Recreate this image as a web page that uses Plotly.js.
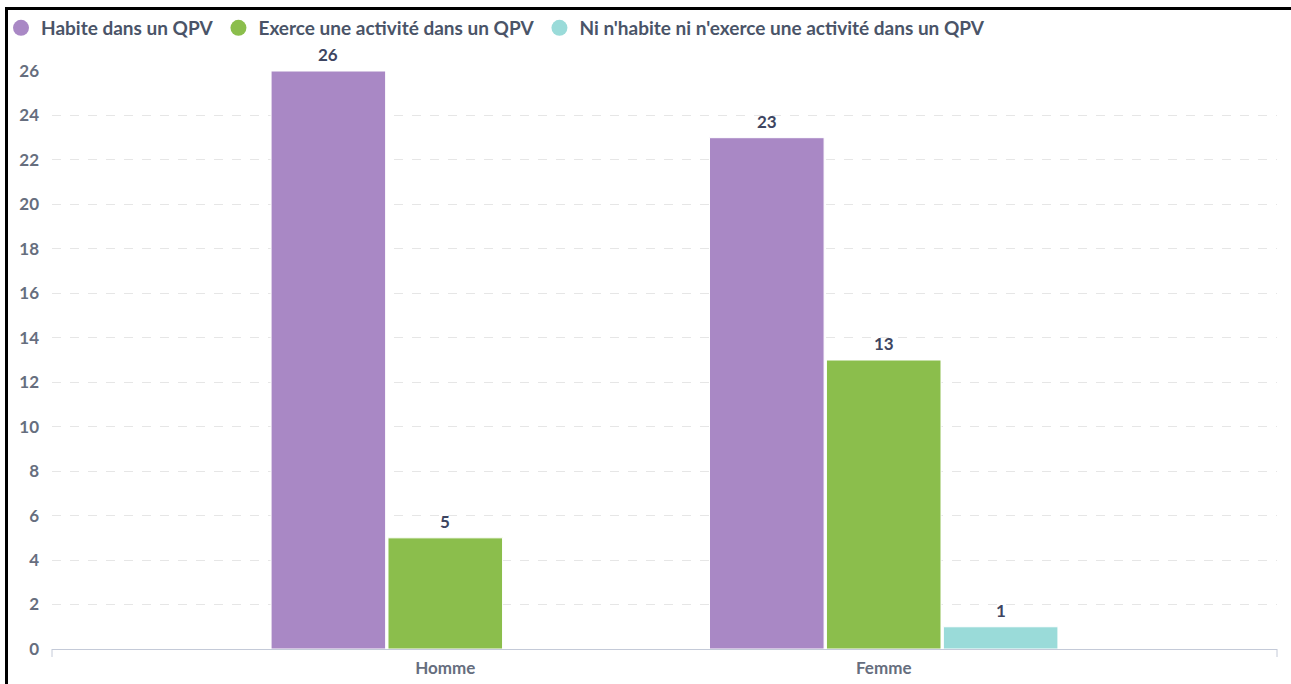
<!DOCTYPE html>
<html>
<head>
<meta charset="utf-8">
<script src="https://cdn.plot.ly/plotly-3.0.1.min.js"></script>
<style>
  html, body { margin: 0; padding: 0; background: #ffffff; }
  #chart { width: 1291px; height: 684px; position: absolute; left: 0; top: 0; }
  #frame { position: absolute; left: 5px; top: 7px; width: 1300px; height: 700px;
           border-left: 3px solid #000; border-top: 3px solid #000; pointer-events: none; }
</style>
</head>
<body>
<div id="chart"></div>
<div id="frame"></div>
<script>
const categories = ["Homme", "Femme"];
const seriesNames = [
  "Habite dans un QPV",
  "Exerce une activité dans un QPV",
  "Ni n'habite ni n'exerce une activité dans un QPV"
];
const habite = [26, 23];
const exerce = [5, 13];
const niNi = [null, 1];
const colors = ["#a988c5", "#8bbe4c", "#9adbd9"];

const values = [habite, exerce, niNi];
const traces = [];
values.forEach((vals, i) => {
  traces.push({
    type: "bar",
    name: seriesNames[i],
    x: categories,
    y: vals,
    marker: { color: colors[i], line: { color: "#ffffff", width: 1 } },
    showlegend: false,
    legendgroup: "g" + i,
    hoverinfo: "x+y+name"
  });
});
values.forEach((vals, i) => {
  traces.push({
    type: "scatter",
    mode: "markers",
    name: seriesNames[i],
    x: [null],
    y: [null],
    marker: { color: colors[i], size: 16, symbol: "circle" },
    legendgroup: "g" + i,
    showlegend: true,
    hoverinfo: "skip"
  });
});

const plotW = 1291 - 52 - 14;
const plotH = 684 - 71 - 35;

// data labels positioned from the same arrays via the category/bar scale
const bargap = 0.2, groupgap = 0.02;
const slot = (1 - bargap) / values.length;
const annotations = [];
values.forEach((vals, i) => {
  vals.forEach((v, j) => {
    if (v === null) return;
    annotations.push({
      xref: "x", yref: "y",
      x: j - (1 - bargap) / 2 + slot * (i + 0.5),
      y: v,
      text: String(v),
      showarrow: false,
      yanchor: "bottom",
      yshift: 4,
      font: { family: "Lato", size: 17, color: "#3d4561", weight: "bold" }
    });
  });
});

const layout = {
  width: 1291,
  height: 684,
  margin: { l: 52, r: 14, t: 71, b: 35, autoexpand: false },
  paper_bgcolor: "#ffffff",
  plot_bgcolor: "#ffffff",
  font: { family: "Lato", size: 17, color: "#666e7e", weight: "bold" },
  barmode: "group",
  bargap: bargap,
  bargroupgap: groupgap,
  showlegend: true,
  legend: {
    orientation: "h",
    xref: "container",
    yref: "container",
    x: 1 / 1291,
    xanchor: "left",
    y: 1 - 9 / 684,
    yanchor: "top",
    font: { family: "Lato", size: 19, color: "#4a5468", weight: "bold" },
    itemclick: false,
    bgcolor: "rgba(0,0,0,0)",
    tracegroupgap: 0
  },
  annotations: annotations,
  xaxis: {
    type: "category",
    range: [-0.897, 1.897],
    showgrid: false,
    showline: true,
    linecolor: "#c4cad8",
    linewidth: 1,
    ticks: "",
    automargin: false,
    ticklabelstandoff: 4,
    tickfont: { family: "Lato", size: 17, color: "#666e7e", weight: "bold" },
    fixedrange: true
  },
  yaxis: {
    range: [0, 26],
    dtick: 2,
    showgrid: true,
    gridcolor: "#e6e6e6",
    griddash: "dash",
    gridwidth: 1,
    zeroline: false,
    showline: false,
    ticks: "",
    automargin: false,
    ticklabelstandoff: 12,
    tickfont: { family: "Lato", size: 17, color: "#666e7e", weight: "bold" },
    fixedrange: true
  },
  shapes: [
    { type: "line", xref: "paper", yref: "paper", x0: 0, x1: 0, y0: 0, y1: -8 / plotH,
      line: { color: "#c4cad8", width: 1 } },
    { type: "line", xref: "paper", yref: "paper", x0: 1, x1: 1, y0: 0, y1: -8 / plotH,
      line: { color: "#c4cad8", width: 1 } }
  ]
};

Plotly.newPlot("chart", traces, layout, { displayModeBar: false });
</script>
</body>
</html>
